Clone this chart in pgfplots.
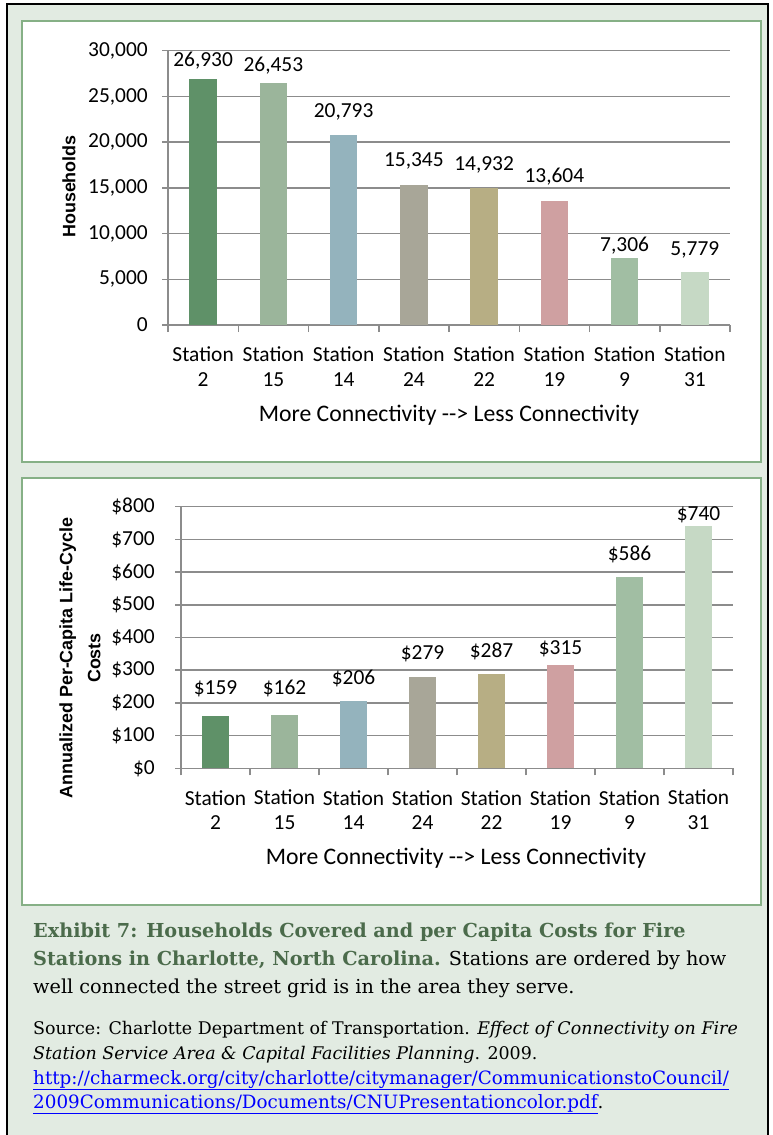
\documentclass[border=0pt]{standalone}
\usepackage{pgfplots}
\pgfplotsset{compat=1.18}
\usepackage{fontspec}
\setmainfont{Carlito}
\newfontfamily\capfont{DejaVu Serif}
\newfontfamily\labfont{Liberation Sans}
\definecolor{bg}{HTML}{E2EBE2}
\definecolor{panelborder}{HTML}{86B086}
\definecolor{gridc}{HTML}{8C8C8C}
\definecolor{c1}{HTML}{5F9168}
\definecolor{c2}{HTML}{9BB59B}
\definecolor{c3}{HTML}{94B3BD}
\definecolor{c4}{HTML}{A8A698}
\definecolor{c5}{HTML}{B7AE84}
\definecolor{c6}{HTML}{CFA0A1}
\definecolor{c7}{HTML}{A1BEA3}
\definecolor{c8}{HTML}{C6D9C5}
\definecolor{capgreen}{HTML}{4B6B4B}
\definecolor{linkblue}{HTML}{0000FF}

\pgfplotstableread{
x ly v
0 28909 26930
1 28364 26453
2 23273 20793
3 17927 15345
4 17455 14932
5 16182 13604
6 8727 7306
7 8255 5779
}\hhlabels

\pgfplotstableread{
x ly v
0 244.6 159
1 244.6 162
2 275.2 206
3 351.7 279
4 356.6 287
5 367.0 315
6 655.3 586
7 774.6 740
}\costlabels

\newcommand{\chartfont}{\fontsize{21.5}{24.5}\selectfont}
\newcommand{\titlefont}{\fontsize{23.8}{28}\selectfont}
\newcommand{\capsize}{\fontsize{19.3}{28}\selectfont}
\newcommand{\srcsize}{\fontsize{17.5}{25}\selectfont}
\newcommand{\linksize}{\fontsize{18.4}{25}\selectfont}

\pgfplotsset{
 stationaxis/.style={
  scale only axis,
  xmin=-0.5, xmax=7.5, ymin=0,
  axis x line=bottom, axis y line=left,
  axis line style={draw=gridc, line width=1.5bp, -},
  ymajorgrids, grid style={draw=gridc, line width=1.5bp},
  xtick={0,...,7},
  xticklabels={{Station\\2},{Station\\15},{Station\\14},{Station\\24},{Station\\22},{Station\\19},{Station\\9},{Station\\31}},
  major x tick style={draw=none},
  minor xtick={-0.5,0.5,...,7.5},
  minor x tick style={draw=gridc, line width=1.5bp},
  minor tick length=7bp,
  ytick style={draw=gridc, line width=1.5bp},
  major tick length=6bp,
  tick align=outside,
  scaled y ticks=false,
  tick label style={font=\chartfont, text=black},
  xticklabel style={align=center, anchor=center, yshift=-35.5bp},
  yticklabel style={anchor=east, inner sep=0pt, xshift=-14bp},
  /pgf/number format/assume math mode=true,
  clip=false,
 },
 bar/.style={ybar, bar width=27.5bp, bar shift=0pt, draw=none, fill=#1},
 lab/.style={draw=none, only marks, mark=*, mark size=0bp, mark options={draw=none, fill=none},
   point meta=explicit,
   nodes near coords style={anchor=center, font=\chartfont, text=black, inner sep=0pt}},
}

\begin{document}
\begin{tikzpicture}
\useasboundingbox (0,0) rectangle (773bp,-1135bp);
\fill[white] (0,0) rectangle (773bp,-1135bp);
\fill[bg] (7bp,-4bp) rectangle (768bp,-1140bp);
\draw[black, line width=1.5bp] (7bp,-1140bp) -- (7bp,-4bp) -- (768bp,-4bp) -- (768bp,-1140bp);
\draw[panelborder, fill=white, line width=1.5bp] (22bp,-21bp) rectangle (761bp,-462bp);
\draw[panelborder, fill=white, line width=1.5bp] (22bp,-478bp) rectangle (761bp,-905bp);

% ---------- top chart ----------
\begin{axis}[stationaxis,
  at={(168bp,-325bp)}, anchor=south west,
  width=562bp, height=274.3bp,
  ymax=30000, ytick={0,5000,...,30000},
  /pgf/number format/1000 sep={,},
]
\addplot[bar=c1] coordinates {(0,26930)};
\addplot[bar=c2] coordinates {(1,26453)};
\addplot[bar=c3] coordinates {(2,20793)};
\addplot[bar=c4] coordinates {(3,15345)};
\addplot[bar=c5] coordinates {(4,14932)};
\addplot[bar=c6] coordinates {(5,13604)};
\addplot[bar=c7] coordinates {(6,7306)};
\addplot[bar=c8] coordinates {(7,5779)};
\addplot[lab, nodes near coords={\pgfmathprintnumber[1000 sep={,}]{\pgfplotspointmeta}}]
  table[x=x, y=ly, meta=v] {\hhlabels};
\end{axis}
\node[font=\titlefont] at (449bp,-415bp) {More Connectivity -\kern0pt-> Less Connectivity};
\node[rotate=90, font=\labfont\bfseries\fontsize{18}{22}\selectfont] at (69bp,-186.5bp) {Households};

% ---------- bottom chart ----------
\begin{axis}[stationaxis,
  at={(181bp,-768.3bp)}, anchor=south west,
  width=552bp, height=261.6bp,
  ymax=800, ytick={0,100,...,800},
  yticklabel={\$\pgfmathprintnumber{\tick}},
  yticklabel style={xshift=-6bp},
]
\addplot[bar=c1] coordinates {(0,159)};
\addplot[bar=c2] coordinates {(1,162)};
\addplot[bar=c3] coordinates {(2,206)};
\addplot[bar=c4] coordinates {(3,279)};
\addplot[bar=c5] coordinates {(4,287)};
\addplot[bar=c6] coordinates {(5,315)};
\addplot[bar=c7] coordinates {(6,586)};
\addplot[bar=c8] coordinates {(7,740)};
\addplot[lab, nodes near coords={\$\pgfmathprintnumber{\pgfplotspointmeta}}]
  table[x=x, y=ly, meta=v] {\costlabels};
\end{axis}
\node[font=\titlefont] at (456bp,-858bp) {More Connectivity -\kern0pt-> Less Connectivity};
\node[rotate=90, align=center, font=\labfont\bfseries\fontsize{18}{28}\selectfont] at (80bp,-658bp) {Annualized Per-Capita Life-Cycle\\Costs};

% ---------- caption ----------
\begin{scope}[every node/.style={anchor=base west, inner sep=0pt}]
\node[font=\capfont\capsize, text=capgreen] at (33bp,-937bp) {\bfseries Exhibit 7: Households Covered and per Capita Costs for Fire};
\node[font=\capfont\capsize, text=black] at (33bp,-965bp) {\textcolor{capgreen}{\bfseries Stations in Charlotte, North Carolina.} Stations are ordered by how};
\node[font=\capfont\capsize, text=black] at (33bp,-993bp) {well connected the street grid is in the area they serve.};
\node[font=\capfont\srcsize, text=black] at (33bp,-1034bp) {Source: Charlotte Department of Transportation. \textit{Effect of Connectivity on Fire}};
\node[font=\capfont\srcsize, text=black] at (33bp,-1059bp) {\textit{Station Service Area \& Capital Facilities Planning}. 2009.};
\node[font=\capfont\linksize, text=black] at (33bp,-1084bp) {\textcolor{linkblue}{\underline{http://charmeck.org/city/charlotte/citymanager/CommunicationstoCouncil/}}};
\node[font=\capfont\linksize, text=black] at (33bp,-1108bp) {\textcolor{linkblue}{\underline{2009Communications/Documents/CNUPresentationcolor.pdf}}.};
\end{scope}
\end{tikzpicture}
\end{document}
